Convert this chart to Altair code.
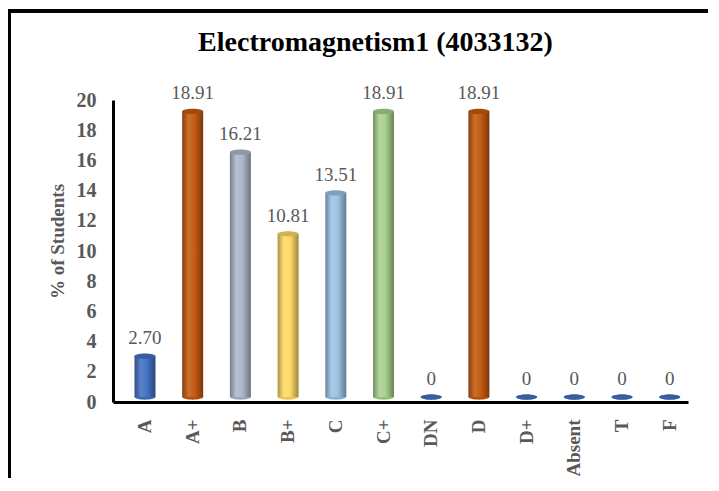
import altair as alt
import pandas as pd

categories = ["A", "A+", "B", "B+", "C", "C+", "DN", "D", "D+", "Absent", "T", "F"]
values = [2.70, 18.91, 16.21, 10.81, 13.51, 18.91, 0, 18.91, 0, 0, 0, 0]
value_labels = ["2.70", "18.91", "16.21", "10.81", "13.51", "18.91", "0", "18.91", "0", "0", "0", "0"]
bar_colors = ["#4472C4", "#C55A11", "#ADB9CA", "#FFD966", "#9DC3E6", "#A9D18E",
              "#4472C4", "#C55A11", "#4472C4", "#4472C4", "#4472C4", "#4472C4"]
y_ticks = list(range(0, 21, 2))
title_text = "Electromagnetism1  (4033132)"
y_title = "% of Students"

SERIF = "Liberation Serif"
GREY = "#595959"


def shade(hexc, f):
    r, g, b = int(hexc[1:3], 16), int(hexc[3:5], 16), int(hexc[5:7], 16)
    if f <= 1:
        r, g, b = r * f, g * f, b * f
    else:
        t = f - 1
        r, g, b = r + (255 - r) * t, g + (255 - g) * t, b + (255 - b) * t
    return "#%02x%02x%02x" % (int(round(r)), int(round(g)), int(round(b)))


df = pd.DataFrame({
    "grade": categories,
    "pct": values,
    "label": value_labels,
    "color": bar_colors,
    "cap": [shade(c, 0.82) for c in bar_colors],
    "base": [shade(c, 0.9) for c in bar_colors],
    "zero": [0.0] * len(categories),
})

ELLIPSE = ("M -1 0 C -1 -0.138 -0.552 -0.25 0 -0.25 C 0.552 -0.25 1 -0.138 1 0 "
           "C 1 0.138 0.552 0.25 0 0.25 C -0.552 0.25 -1 0.138 -1 0 Z")

xenc = alt.X(
    "grade:N", sort=categories, title=None,
    scale=alt.Scale(paddingInner=0.56, paddingOuter=0.307, align=0.734),
    axis=alt.Axis(labelAngle=-90, labelFont=SERIF, labelFontSize=19, labelFontWeight="bold",
                  labelColor=GREY, labelPadding=17, ticks=False, domainColor="black",
                  domainWidth=3, grid=False),
)
yscale = alt.Scale(domain=[0, 20], nice=False)
yaxis = alt.Axis(values=y_ticks, labelFont=SERIF, labelFontSize=20, labelFontWeight="bold",
                 labelColor=GREY, labelPadding=17, ticks=False, domainColor="black",
                 domainWidth=3, grid=False, title=y_title, titleFont=SERIF, titleFontSize=19,
                 titleFontWeight="bold", titleColor=GREY, titlePadding=9, titleY=141)

base = alt.Chart(df)

bottoms = base.mark_point(shape=ELLIPSE, filled=True, size=441, opacity=1, strokeWidth=0,
                          yOffset=-5).encode(
    x=xenc,
    y=alt.Y("zero:Q", scale=yscale, axis=yaxis),
    color=alt.Color("base:N", scale=None),
)

layers = [bottoms]
for c in dict.fromkeys(bar_colors):
    grad = alt.LinearGradient(
        gradient="linear", x1=0, x2=1, y1=0, y2=0,
        stops=[alt.GradientStop(offset=0, color=shade(c, 0.68)),
               alt.GradientStop(offset=0.3, color=shade(c, 1.12)),
               alt.GradientStop(offset=0.6, color=c),
               alt.GradientStop(offset=1, color=shade(c, 0.62))],
    )
    layers.append(
        base.transform_filter((alt.datum.color == c) & (alt.datum.pct > 0))
        .mark_bar(color=grad, yOffset=-5, y2Offset=-5)
        .encode(x=xenc, y=alt.Y("pct:Q", scale=yscale, axis=yaxis))
    )

caps = base.mark_point(shape=ELLIPSE, filled=True, size=441, opacity=1, strokeWidth=0,
                       yOffset=-5).encode(
    x=xenc,
    y=alt.Y("pct:Q", scale=yscale, axis=yaxis),
    color=alt.Color("cap:N", scale=None),
)
texts = base.mark_text(dy=-23, font=SERIF, fontSize=19, color=GREY).encode(
    x=xenc, y=alt.Y("pct:Q", scale=yscale, axis=yaxis), text="label:N"
)

frame = pd.DataFrame({"k": [0]})
top_rule = alt.Chart(frame).mark_rule(color="black", strokeWidth=4).encode(
    x=alt.value(-106), x2=alt.value(620), y=alt.value(-89))
left_rule = alt.Chart(frame).mark_rule(color="black", strokeWidth=4).encode(
    x=alt.value(-104), y=alt.value(-91), y2=alt.value(400))

chart = alt.layer(*layers, caps, texts, top_rule, left_rule).properties(
    width=575, height=302,
    padding={"left": 105, "top": 92, "right": 20, "bottom": 76},
    autosize=alt.AutoSizeParams(type="none"),
    title=alt.TitleParams(title_text, font=SERIF, fontSize=28, fontWeight="bold", color="black",
                          anchor="middle", frame="group", dx=-25, offset=-50),
).configure_view(stroke=None)

chart.save("out.html", embed_options={"renderer": "svg", "actions": False})
